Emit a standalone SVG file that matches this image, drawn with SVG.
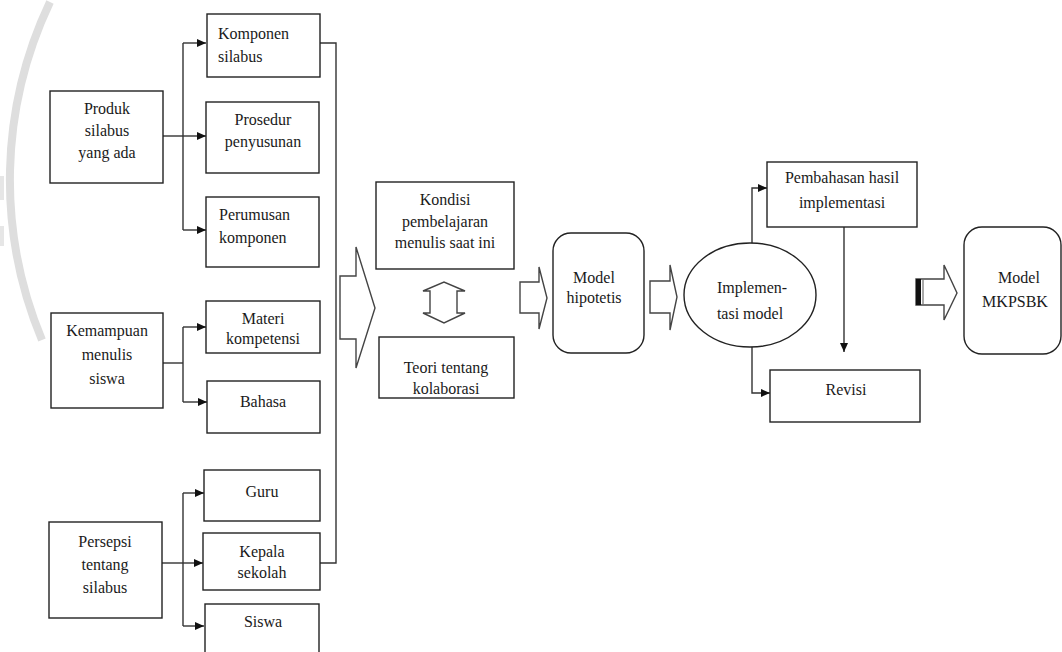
<svg xmlns="http://www.w3.org/2000/svg" width="1062" height="652" viewBox="0 0 1062 652">
<style>
.box{fill:#fff;stroke:#222;stroke-width:1.4}
.blk{fill:#fff;stroke:#444;stroke-width:1.4}
.ln{fill:none;stroke:#333;stroke-width:1.4}
.t{font-family:"Liberation Serif","Times New Roman",serif;font-size:16px;fill:#1a1a1a}
.c{text-anchor:middle}
</style>
<defs>
<marker id="ah" viewBox="0 0 9 8" refX="9" refY="4" markerWidth="9" markerHeight="8" markerUnits="userSpaceOnUse" orient="auto">
<path d="M0,0 L9,4 L0,8 z" fill="#111"/>
</marker>
</defs>
<rect width="1062" height="652" fill="#fff"/>
<g id="watermark">
<path d="M50,2 A415,415 0 0,0 42,340" fill="none" stroke="#dedede" stroke-width="8"/>
<rect x="0" y="176" width="4" height="24" fill="#e6e6e6"/>
<rect x="0" y="226" width="4" height="20" fill="#e6e6e6"/>
</g>
<g id="connectors">
<path class="ln" d="M163,136 H183"/>
<path class="ln" d="M183,43 V230"/>
<path class="ln" d="M183,43 H206" marker-end="url(#ah)"/>
<path class="ln" d="M183,136 H206" marker-end="url(#ah)"/>
<path class="ln" d="M183,230 H206" marker-end="url(#ah)"/>
<path class="ln" d="M163,363 H183"/>
<path class="ln" d="M183,327 V402"/>
<path class="ln" d="M183,327 H206" marker-end="url(#ah)"/>
<path class="ln" d="M183,402 H207" marker-end="url(#ah)"/>
<path class="ln" d="M162,563 H183"/>
<path class="ln" d="M183,493 V626"/>
<path class="ln" d="M183,493 H204" marker-end="url(#ah)"/>
<path class="ln" d="M183,563 H203" marker-end="url(#ah)"/>
<path class="ln" d="M183,626 H204" marker-end="url(#ah)"/>
<path class="ln" d="M320,43 H336 V563 H320"/>
<polygon class="blk" points="340,276 356,276 356,247 375,308 356,368 356,339 340,339"/>
<polygon class="blk" points="430,291 423,291 444,282 465,291 457,291 457,313 465,313 444,323 423,313 430,313"/>
<polygon class="blk" points="520,282 539,282 539,267 547,298 539,329 539,313 520,313"/>
<polygon class="blk" points="650,281 670,281 670,265 677,297 670,330 670,313 650,313"/>
<path class="ln" d="M752,243 V188 H767" marker-end="url(#ah)"/>
<path class="ln" d="M752,347 V393 H770" marker-end="url(#ah)"/>
<path class="ln" d="M844,227 V352" marker-end="url(#ah)"/>
<polygon class="blk" points="916,279 944,279 944,265 957,293 944,320 944,305 916,305"/>
<rect x="916" y="279" width="5" height="26" fill="#111"/>
<path d="M923,280 V304" stroke="#555" stroke-width="1"/>
</g>
<g id="n-produk"><rect class="box" x="50" y="91" width="113" height="92"/>
<text class="t c" x="107" y="114">Produk</text><text class="t c" x="107" y="136">silabus</text><text class="t c" x="107" y="158">yang ada</text></g>
<g id="n-komponen"><rect class="box" x="207" y="14" width="113" height="63"/>
<text class="t" x="218" y="39">Komponen</text><text class="t" x="218" y="62">silabus</text></g>
<g id="n-prosedur"><rect class="box" x="206" y="102" width="113" height="71"/>
<text class="t c" x="263" y="125">Prosedur</text><text class="t c" x="263" y="147">penyusunan</text></g>
<g id="n-perumusan"><rect class="box" x="206" y="197" width="113" height="70"/>
<text class="t" x="219" y="220">Perumusan</text><text class="t" x="219" y="243">komponen</text></g>
<g id="n-kemampuan"><rect class="box" x="51" y="313" width="112" height="95"/>
<text class="t c" x="107" y="336">Kemampuan</text><text class="t c" x="107" y="360">menulis</text><text class="t c" x="107" y="384">siswa</text></g>
<g id="n-materi"><rect class="box" x="206" y="301" width="114" height="52"/>
<text class="t c" x="263" y="324">Materi</text><text class="t c" x="263" y="344">kompetensi</text></g>
<g id="n-bahasa"><rect class="box" x="207" y="381" width="113" height="52"/>
<text class="t c" x="263" y="407">Bahasa</text></g>
<g id="n-persepsi"><rect class="box" x="49" y="522" width="113" height="96"/>
<text class="t c" x="105" y="547">Persepsi</text><text class="t c" x="105" y="570">tentang</text><text class="t c" x="105" y="593">silabus</text></g>
<g id="n-guru"><rect class="box" x="204" y="470" width="116" height="51"/>
<text class="t c" x="262" y="497">Guru</text></g>
<g id="n-kepala"><rect class="box" x="203" y="533" width="117" height="57"/>
<text class="t c" x="262" y="557">Kepala</text><text class="t c" x="262" y="578">sekolah</text></g>
<g id="n-siswa"><rect class="box" x="205" y="604" width="114" height="60"/>
<text class="t c" x="263" y="627">Siswa</text></g>
<g id="n-kondisi"><rect class="box" x="376" y="182" width="138" height="87"/>
<text class="t c" x="445" y="205">Kondisi</text><text class="t c" x="445" y="227">pembelajaran</text><text class="t c" x="445" y="248">menulis saat ini</text></g>
<g id="n-teori"><rect class="box" x="379" y="337" width="135" height="61"/>
<text class="t c" x="446" y="373">Teori tentang</text><text class="t c" x="446" y="394">kolaborasi</text></g>
<g id="n-hipotetis"><rect class="box" x="553" y="233" width="91" height="120" rx="18"/>
<text class="t c" x="594" y="283">Model</text><text class="t c" x="594" y="303">hipotetis</text></g>
<g id="n-implementasi"><ellipse class="box" cx="750" cy="295" rx="66" ry="52"/>
<text class="t c" x="752" y="293">Implemen-</text><text class="t c" x="750" y="319">tasi model</text></g>
<g id="n-pembahasan"><rect class="box" x="767" y="162" width="150" height="65"/>
<text class="t c" x="842" y="183">Pembahasan hasil</text><text class="t c" x="842" y="208">implementasi</text></g>
<g id="n-revisi"><rect class="box" x="770" y="370" width="150" height="52"/>
<text class="t c" x="846" y="395">Revisi</text></g>
<g id="n-mkpsbk"><rect class="box" x="964" y="227" width="97" height="127" rx="18"/>
<text class="t c" x="1019" y="283">Model</text><text class="t c" x="1015" y="307">MKPSBK</text></g>
</svg>
